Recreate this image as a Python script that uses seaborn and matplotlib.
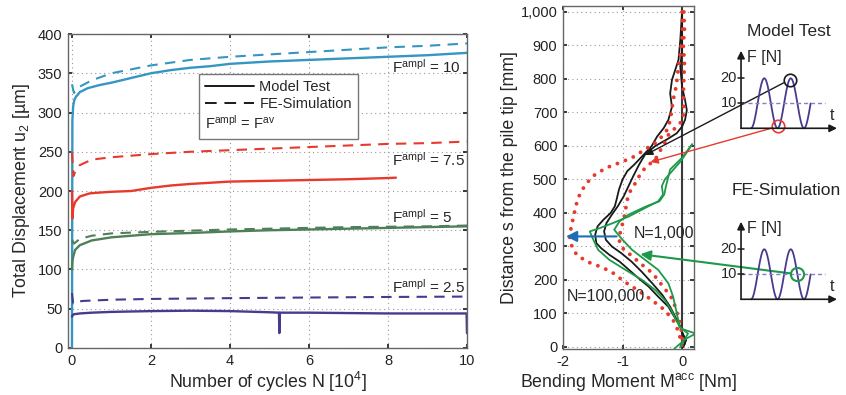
import numpy as np
import matplotlib
matplotlib.use("Agg")
import matplotlib.pyplot as plt
from matplotlib.lines import Line2D
from matplotlib.ticker import MultipleLocator, StrMethodFormatter
import seaborn as sns

# ---------- left panel: total displacement vs number of cycles (N in 10^4) ----------
n_blue_test = [0, 0.01, 0.03, 0.06, 0.1, 0.2, 0.4, 0.7, 1.0, 1.5, 2, 2.5, 3, 3.5, 4, 5, 6, 7, 8, 9, 10]
u_blue_test = [0, 290, 308, 316, 320, 326, 331, 335, 338, 344, 350, 354, 357, 359, 362, 365, 367, 369, 371, 373, 376]
n_blue_fe = [0, 0.05, 0.1, 0.2, 0.5, 1, 2, 3, 4, 5, 6, 7, 8, 9, 10]
u_blue_fe = [336, 325, 328, 333, 341, 350, 360, 367, 371, 374, 377, 380, 383, 385, 388]

n_red_test = [0, 0.01, 0.03, 0.08, 0.2, 0.45, 0.7, 1, 1.5, 2, 2.5, 3, 4, 5, 6, 7, 8, 8.2]
u_red_test = [200, 165, 178, 186, 193, 197, 198, 199, 200, 204, 207, 209, 212, 213, 214, 215, 216.5, 217]
n_red_fe = [0, 0.04, 0.1, 0.2, 0.5, 1, 2, 3, 4, 5, 6, 7, 8, 9, 10]
u_red_fe = [249, 219, 227, 233, 240, 243, 247, 250, 252, 254, 256, 258, 260, 261, 263]

n_green_test = [0, 0.01, 0.03, 0.08, 0.2, 0.5, 1, 2, 3, 4, 5, 6, 7, 8, 9, 10]
u_green_test = [100, 110, 116, 125, 131, 137, 141, 145, 146.5, 148.5, 150, 151, 152, 153, 154, 155]
n_green_fe = [0, 0.05, 0.2, 0.5, 1, 2, 3, 4, 5, 6, 7, 8, 9, 10]
u_green_fe = [138, 133, 139, 143, 146, 148, 149.5, 151, 152, 153, 154, 154.5, 155, 156]

n_purple_test = [0, 0.02, 0.05, 0.2, 0.5, 1, 2, 3, 4, 5, 5.24, 5.25, 5.26, 6, 7, 8, 9, 9.99, 10]
u_purple_test = [40, 42, 43, 44, 45, 46, 47, 47.5, 47, 45.5, 45, 19, 45, 45, 44.5, 44, 44, 44, 19]
n_purple_fe = [0, 0.03, 0.1, 0.3, 1, 2, 4, 6, 8, 10]
u_purple_fe = [70, 57, 59, 60, 61.5, 62.5, 63.5, 64.3, 65, 65.5]

ampl_labels = ["10", "7.5", "5", "2.5"]
ampl_label_u = [358, 240, 167, 78]

# ---------- right panel: accumulated bending moment along the pile ----------
black_a_m = [0, -0.03, -0.06, -0.17, -0.2, -0.17, -0.23, -0.31, -0.42, -0.51, -0.64, -0.8, -0.92, -1.0, -1.06,
             -1.1, -1.13, -1.2, -1.32, -1.42, -1.46, -1.44, -1.36, -1.22, -1.05, -0.89, -0.73, -0.56, -0.4,
             -0.23, -0.13, -0.04, 0.01, 0.07, 0.01]
black_a_s = [1000, 916, 857, 797, 757, 717, 678, 653, 628, 600, 575, 545, 525, 500, 470,
             440, 420, 400, 380, 360, 335, 310, 295, 275, 255, 230, 205, 180, 150,
             120, 90, 65, 40, 20, 0]
black_b_m = [0, 0, -0.03, 0, 0.05, 0.08, 0.05, 0, -0.09, -0.25, -0.45, -0.62, -0.72, -0.82, -0.9, -0.98,
             -1.08, -1.18, -1.27, -1.31, -1.28, -1.18, -1.02, -0.85, -0.68, -0.5, -0.33, -0.2, -0.1,
             -0.02, 0.03, 0.05, 0.02]
black_b_s = [1000, 887, 837, 777, 737, 707, 678, 658, 638, 620, 600, 575, 545, 510, 480, 450,
             420, 395, 370, 345, 320, 300, 280, 255, 225, 190, 155, 120, 85,
             55, 30, 10, 0]

red_a_m = [0, 0.01, -0.03, -0.07, -0.1, -0.15, -0.18, -0.23, -0.4, -0.62, -0.84, -1.05, -1.27, -1.46, -1.6,
           -1.71, -1.77, -1.81, -1.86, -1.89, -1.85, -1.77, -1.6, -1.38, -1.19, -0.97, -0.75, -0.51, -0.29,
           -0.15, -0.07, -0.02, 0]
red_a_s = [1000, 937, 877, 821, 777, 737, 698, 653, 615, 590, 565, 550, 535, 515, 490,
           460, 430, 400, 360, 330, 300, 275, 255, 240, 225, 195, 170, 140, 110,
           80, 50, 20, 0]
red_b_m = [0.03, 0.04, 0.02, 0.04, 0.03, 0.02, 0.03, 0.0, -0.1, -0.21, -0.29, -0.45, -0.62, -0.72, -0.78,
           -0.86, -0.92, -0.95, -0.98, -1.03, -1.06, -1.0, -0.9, -0.8, -0.67, -0.56, -0.45, -0.34, -0.23,
           -0.15, -0.1, -0.05, -0.02, 0, 0.02]
red_b_s = [1000, 950, 900, 850, 800, 750, 700, 675, 655, 640, 610, 560, 535, 510, 490,
           470, 440, 410, 380, 350, 320, 295, 280, 265, 245, 230, 210, 185, 160,
           140, 110, 85, 60, 30, 0]

green_a_m = [0.17, -0.02, -0.29, -0.34, -0.32, -0.4, -0.62, -0.89, -1.16, -1.38, -1.55, -1.49, -1.41, -1.22,
             -0.95, -0.67, -0.45, -0.29, -0.18, -0.1, -0.02, 0.23, 0.07, -0.13]
green_a_s = [605, 555, 500, 480, 455, 435, 415, 390, 370, 355, 345, 320, 290, 260,
             230, 200, 170, 140, 110, 80, 55, 40, 25, -5]
green_b_m = [0.17, 0.0, -0.2, -0.27, -0.3, -0.38, -0.6, -0.9, -1.05, -1.14, -1.0, -0.84, -0.62, -0.4,
             -0.23, -0.15, -0.1, -0.04, 0.1, 0.05, -0.03]
green_b_s = [605, 565, 530, 480, 455, 435, 420, 395, 375, 350, 320, 290, 260, 230,
             190, 150, 110, 60, 40, 25, 0]

# ---------- load sketches ----------
load_mean = 10
load_ampl = 10
load_period = 26.5
load_t = np.linspace(10, 69.6, 300)
load_ticks = [10, 20]
circle_mt_max = (49, 19.5)
circle_mt_min = (37.3, 0.8)
circle_fe_mean = (56.4, 10)

c_blue, c_red, c_green, c_purple = "#3596c3", "#e8392c", "#4f7f59", "#4a3a8e"
c_fe_green, c_arrow_blue = "#1c9a4a", "#1f6db5"

sns.set_theme(style="ticks")
plt.rcParams["font.family"] = ["Liberation Sans", "DejaVu Sans"]
plt.rcParams["mathtext.fontset"] = "custom"
plt.rcParams["mathtext.rm"] = "Liberation Sans"
plt.rcParams["mathtext.it"] = "Liberation Sans:italic"
plt.rcParams["mathtext.default"] = "regular"
plt.rcParams["axes.unicode_minus"] = False

fig = plt.figure(figsize=(8.46, 3.95), dpi=100)
ax1 = fig.add_axes([0.0804, 0.119, 0.4716, 0.7949])
ax2 = fig.add_axes([0.6655, 0.1165, 0.1548, 0.8684])

dash = (0, (5, 3.5))
series = [
    (n_blue_test, u_blue_test, c_blue, "-"), (n_blue_fe, u_blue_fe, c_blue, dash),
    (n_red_test, u_red_test, c_red, "-"), (n_red_fe, u_red_fe, c_red, dash),
    (n_green_test, u_green_test, c_green, "-"), (n_green_fe, u_green_fe, c_green, dash),
    (n_purple_test, u_purple_test, c_purple, "-"), (n_purple_fe, u_purple_fe, c_purple, dash),
]
for xs, ys, col, ls in series:
    sns.lineplot(x=xs, y=ys, ax=ax1, color=col, linestyle=ls, lw=1.7 if ls == "-" else 1.5,
                 estimator=None, sort=False)

for lab, yv in zip(ampl_labels, ampl_label_u):
    ax1.text(8.1, yv, "F$^{\\mathrm{ampl}}$ = " + lab, fontsize=11, va="center", ha="left")

ax1.set_xlim(-0.1, 10)
ax1.set_ylim(0, 400)
ax1.xaxis.set_major_locator(MultipleLocator(2))
ax1.yaxis.set_major_locator(MultipleLocator(50))
ax1.set_xlabel("Number of cycles N [10$^4$]", fontsize=12.8, labelpad=2)
ax1.set_ylabel("Total Displacement u$_2$ [µm]", fontsize=12.8, labelpad=4)

eq_label = "F$^{\\mathrm{ampl}}$ = F$^{\\mathrm{av}}$"
leg = ax1.legend(handles=[Line2D([], [], color="k", lw=1.4),
                          Line2D([], [], color="k", lw=1.4, ls=(0, (6, 4))),
                          Line2D([], [], lw=0)],
                 labels=["Model Test", "FE-Simulation", eq_label],
                 loc="upper left", bbox_to_anchor=(0.328, 0.873), borderaxespad=0,
                 fontsize=10.5, handlelength=3.3, handletextpad=0.4, labelspacing=0.2,
                 borderpad=0.45, fancybox=False, framealpha=1, edgecolor="#777777")
leg.get_frame().set_linewidth(1.0)

# right panel curves
for xs, ys in [(black_a_m, black_a_s), (black_b_m, black_b_s)]:
    sns.lineplot(x=xs, y=ys, ax=ax2, color="k", lw=1.3, orient="y", estimator=None, sort=False)
for xs, ys in [(red_a_m, red_a_s), (red_b_m, red_b_s)]:
    sns.lineplot(x=xs, y=ys, ax=ax2, color=c_red, lw=2.8, linestyle=(0, (0.01, 2.2)),
                 dash_capstyle="round", orient="y", estimator=None, sort=False)
for xs, ys in [(green_a_m, green_a_s), (green_b_m, green_b_s)]:
    sns.lineplot(x=xs, y=ys, ax=ax2, color=c_fe_green, lw=1.3, orient="y", estimator=None, sort=False)
ax2.axvline(0, color="#3a3a3a", lw=1.5, zorder=1)

ax2.set_xlim(-2.0, 0.2)
ax2.set_ylim(-6, 1018)
ax2.xaxis.set_major_locator(MultipleLocator(1))
ax2.yaxis.set_major_locator(MultipleLocator(100))
ax2.yaxis.set_major_formatter(StrMethodFormatter("{x:,.0f}"))
ax2.set_xlabel("Bending Moment M$^{\\mathrm{acc}}$ [Nm]", fontsize=12.8, labelpad=2)
ax2.set_ylabel("Distance s from the pile tip [mm]", fontsize=12.8, labelpad=2)

ax2.annotate("", xy=(-1.95, 330), xytext=(-1.1, 330),
             arrowprops=dict(arrowstyle="-|>", color=c_arrow_blue, lw=1.5, mutation_scale=16, shrinkA=0, shrinkB=0))
ax2.text(-0.82, 340, "N=1,000", fontsize=11.5, va="center", ha="left", clip_on=False)
ax2.text(-1.93, 150, "N=100,000", fontsize=11.5, va="center", ha="left")

for ax in (ax1, ax2):
    ax.grid(True, linestyle=(0, (1, 3)), color="#9a9a9a", lw=0.8)
    ax.tick_params(direction="in", length=3, top=True, right=True, labelsize=10.5,
                   colors="#222222", pad=4)
    for sp in ax.spines.values():
        sp.set_color("#666666")
        sp.set_linewidth(1.0)
        sp.set_visible(True)

# load sketches
s1 = fig.add_axes([0.8582, 0.6499, 0.1418, 0.2532])
s2 = fig.add_axes([0.8582, 0.2170, 0.1418, 0.2532])
load_f = load_mean - load_ampl * np.cos(2 * np.pi * (load_t - 10) / load_period)
for s in (s1, s2):
    s.set_xlim(-15, 105)
    s.set_ylim(-4, 36)
    s.axis("off")
    s.patch.set_alpha(0)
    sns.lineplot(x=load_t, y=load_f, ax=s, color=c_purple, lw=1.3, estimator=None, sort=False)
    s.plot([0, 84], [load_mean, load_mean], color="#8b7fc4", lw=1.0, ls=(0, (3, 2)))
    s.annotate("", xy=(0, 31), xytext=(0, 0),
               arrowprops=dict(arrowstyle="-|>", color="k", lw=1.2, mutation_scale=11, shrinkA=0, shrinkB=0))
    s.annotate("", xy=(96, 0), xytext=(0, 0),
               arrowprops=dict(arrowstyle="-|>", color="k", lw=1.2, mutation_scale=11, shrinkA=0, shrinkB=0))
    for tv in load_ticks:
        s.plot([-3, 3], [tv, tv], color="k", lw=1.1)
        s.text(-4, tv, str(tv), fontsize=10.5, ha="right", va="center")
    s.text(6, 28.5, "F [N]", fontsize=11.5, ha="left", va="center")
    s.text(91, 5, "t", fontsize=11.5, ha="center", va="center")

s1.plot(*circle_mt_max, marker="o", ms=9, mfc="none", mec="k", mew=1.2)
s1.plot(*circle_mt_min, marker="o", ms=9, mfc="none", mec=c_red, mew=1.2)
s2.plot(*circle_fe_mean, marker="o", ms=9.5, mfc="none", mec=c_fe_green, mew=1.5)

fig.text(788.5 / 846, 1 - 31 / 395, "Model Test", fontsize=12.5, ha="center", va="center")
fig.text(786.7 / 846, 1 - 190.7 / 395, "FE-Simulation", fontsize=12.5, ha="center", va="center")

# arrows from the sketches into the moment profile
ax2.annotate("", xy=(-0.62, 573), xycoords="data", xytext=circle_mt_max, textcoords=s1.transData,
             arrowprops=dict(arrowstyle="-|>", color="k", lw=1.0, mutation_scale=11, shrinkA=5, shrinkB=0))
ax2.annotate("", xy=(-0.53, 552), xycoords="data", xytext=circle_mt_min, textcoords=s1.transData,
             arrowprops=dict(arrowstyle="-|>", color=c_red, lw=1.0, mutation_scale=11, shrinkA=5, shrinkB=0))
ax2.annotate("", xy=(-0.7, 277), xycoords="data", xytext=circle_fe_mean, textcoords=s2.transData,
             arrowprops=dict(arrowstyle="-|>", color=c_fe_green, lw=1.5, mutation_scale=15, shrinkA=5, shrinkB=0))

# third legend row written flush with the handles (the legend's own copy is hidden)
fig.canvas.draw()
renderer = fig.canvas.get_renderer()
tb = leg.get_texts()[2].get_window_extent(renderer)
hb = leg.legend_handles[0].get_window_extent(renderer)
fx, fy = fig.transFigure.inverted().transform((hb.x0, (tb.y0 + tb.y1) / 2))
leg.get_texts()[2].set_visible(False)
fig.text(fx, fy, eq_label, fontsize=10.5, ha="left", va="center")

fig.savefig("out.png", dpi=100)
